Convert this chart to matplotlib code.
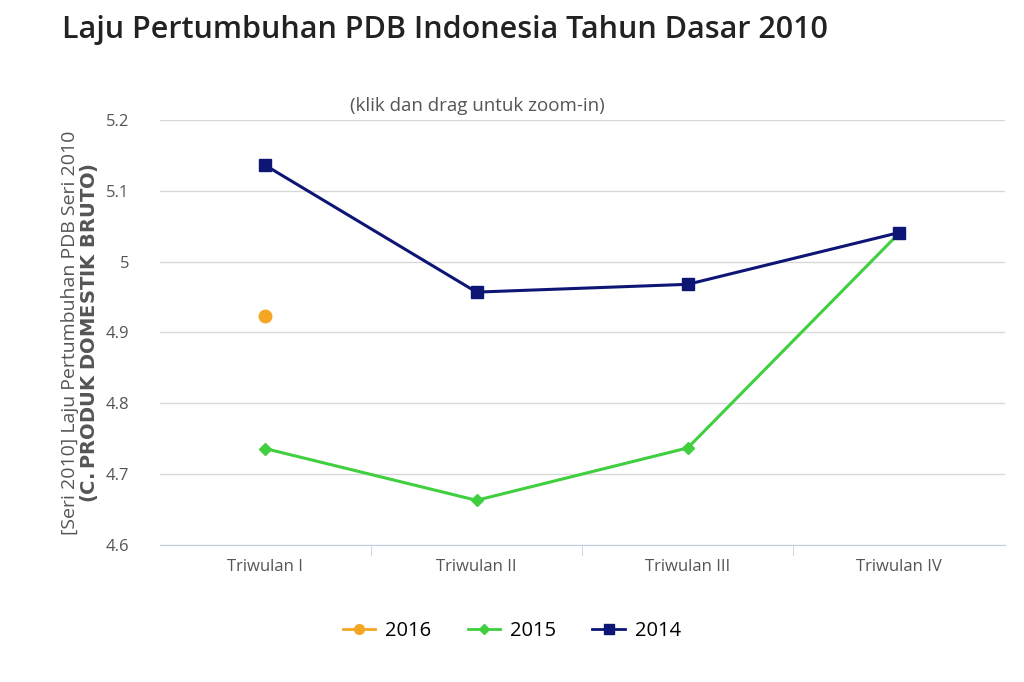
import matplotlib
matplotlib.use("Agg")
import matplotlib.pyplot as plt

categories = ["Triwulan I", "Triwulan II", "Triwulan III", "Triwulan IV"]
s2016 = [4.923]
s2015 = [4.736, 4.663, 4.737, 5.04]
s2014 = [5.136, 4.957, 4.968, 5.041]
yticks = [4.6, 4.7, 4.8, 4.9, 5.0, 5.1, 5.2]
ylabels = ["4.6", "4.7", "4.8", "4.9", "5", "5.1", "5.2"]

plt.rcParams["font.family"] = "Open Sans"
fig = plt.figure(figsize=(10.24, 6.82), dpi=100)
ax = fig.add_axes([0.156, 0.201, 0.825, 0.623])
x = list(range(len(categories)))
ax.plot(x, s2015, color="#3fcf3f", marker="D", markersize=6, lw=2.2, zorder=3)
ax.plot(x, s2014, color="#0d1675", marker="s", markersize=8, lw=2.2, zorder=4)
ax.plot(x[:1], s2016, color="#f5a623", marker="o", markersize=9, lw=0, zorder=3)
ax.set_xlim(-0.5, 3.5)
ax.set_ylim(4.6, 5.2)
ax.set_yticks(yticks, ylabels)
ax.set_xticks(x, categories)
ax.set_xticks([0.5, 1.5, 2.5], minor=True)
ax.tick_params(axis="y", length=0, labelsize=12, colors="#555555", pad=22)
ax.tick_params(axis="x", which="major", length=0, labelsize=12, colors="#555555", pad=10)
ax.tick_params(axis="x", which="minor", length=8, color="#c0d0e0")
ax.grid(axis="y", color="#d8d8d8", lw=1)
for s in ["top", "right", "left"]:
    ax.spines[s].set_visible(False)
ax.spines["bottom"].set_color("#c0d0e0")
ax.set_axisbelow(True)
ax.set_ylabel("[Seri 2010] Laju Pertumbuhan PDB Seri 2010\n$\\bf{(C. PRODUK\\ DOMESTIK\\ BRUTO)}$",
              fontsize=14, color="#555555", linespacing=0.95, labelpad=4)
fig.text(0.061, 0.956, "Laju Pertumbuhan PDB Indonesia Tahun Dasar 2010", fontsize=22,
         color="#222222", va="center", fontweight="semibold")
fig.text(0.466, 0.845, "(klik dan drag untuk zoom-in)", fontsize=13.5, color="#555555", ha="center", va="center")
h = [plt.Line2D([], [], color="#f5a623", marker="o", lw=2, markersize=7),
     plt.Line2D([], [], color="#3fcf3f", marker="D", lw=2, markersize=5),
     plt.Line2D([], [], color="#0d1675", marker="s", lw=2, markersize=7)]
fig.legend(h, ["2016", "2015", "2014"], loc="center", bbox_to_anchor=(0.5, 0.075), ncol=3,
           frameon=False, fontsize=14.5, handlelength=1.6, columnspacing=1.8, handletextpad=0.5)
fig.savefig("out.png", dpi=100)
